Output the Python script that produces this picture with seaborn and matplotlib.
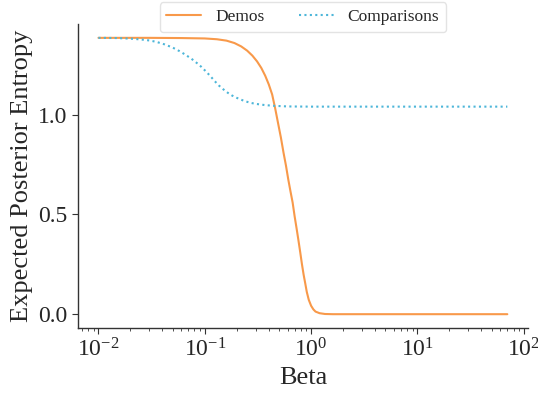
import matplotlib
matplotlib.use("Agg")
import matplotlib.pyplot as plt
import seaborn as sns
import pandas as pd

demos_beta = [0.01, 0.03, 0.06, 0.1, 0.13, 0.16, 0.19, 0.22, 0.25, 0.28, 0.31, 0.34,
              0.37, 0.40, 0.43, 0.46, 0.49, 0.52, 0.55, 0.58, 0.61, 0.64, 0.67, 0.70,
              0.73, 0.76, 0.79, 0.82, 0.85, 0.88, 0.91, 0.95, 1.0, 1.05, 1.1, 1.2,
              1.35, 1.6, 70.0]
demos_entropy = [1.386, 1.386, 1.385, 1.383, 1.379, 1.372, 1.360, 1.343, 1.322, 1.297,
                 1.268, 1.235, 1.196, 1.152, 1.102, 1.030, 0.955, 0.885, 0.810, 0.745,
                 0.675, 0.615, 0.560, 0.490, 0.430, 0.370, 0.310, 0.250, 0.198, 0.155,
                 0.112, 0.072, 0.042, 0.024, 0.013, 0.005, 0.001, 0.0, 0.0]

comp_beta = [0.01, 0.015, 0.02, 0.025, 0.03, 0.035, 0.042, 0.05, 0.058, 0.065, 0.075,
             0.085, 0.093, 0.105, 0.115, 0.124, 0.135, 0.15, 0.165, 0.18, 0.2, 0.236,
             0.27, 0.3, 0.365, 0.45, 0.6, 1.0, 70.0]
comp_entropy = [1.386, 1.385, 1.382, 1.378, 1.373, 1.366, 1.353, 1.337, 1.319, 1.303,
                1.281, 1.258, 1.240, 1.212, 1.189, 1.169, 1.148, 1.127, 1.110, 1.097,
                1.085, 1.069, 1.060, 1.055, 1.049, 1.045, 1.042, 1.041, 1.041]

series_names = ["Demos", "Comparisons"]

df = pd.concat([
    pd.DataFrame({"Beta": demos_beta, "Entropy": demos_entropy, "Type": series_names[0]}),
    pd.DataFrame({"Beta": comp_beta, "Entropy": comp_entropy, "Type": series_names[1]}),
])

sns.set_theme(style="ticks")
plt.rcParams["font.family"] = ["Liberation Serif", "DejaVu Serif"]
plt.rcParams["mathtext.fontset"] = "stix"

fig = plt.figure(figsize=(5.38, 3.94), dpi=100)
ax = fig.add_axes([0.145, 0.1675, 0.836, 0.7715])

palette = {"Demos": "#F8994A", "Comparisons": "#4DB6D9"}
sns.lineplot(data=df, x="Beta", y="Entropy", hue="Type", style="Type",
             dashes={"Demos": "", "Comparisons": (1, 1.6)}, palette=palette,
             linewidth=1.5, ax=ax, legend=True)
ax.set_xscale("log")
ax.set_xlabel("Beta", fontsize=19)
ax.set_ylabel("Expected Posterior Entropy", fontsize=19)
ax.set_yticks([0.0, 0.5, 1.0])
ax.tick_params(axis="both", which="major", labelsize=17, length=4, width=0.8,
               color="#333333")
ax.tick_params(axis="both", which="minor", length=2, width=0.6, color="#333333")
for s in ax.spines.values():
    s.set_linewidth(1.0)
    s.set_color("#333333")
sns.despine(ax=ax)

leg = ax.legend(loc="lower center", bbox_to_anchor=(0.5, 0.945), ncol=2,
                fontsize=12.5, frameon=True, columnspacing=2.0)
leg.get_frame().set_edgecolor("#dddddd")

fig.savefig("out.png", dpi=100)
